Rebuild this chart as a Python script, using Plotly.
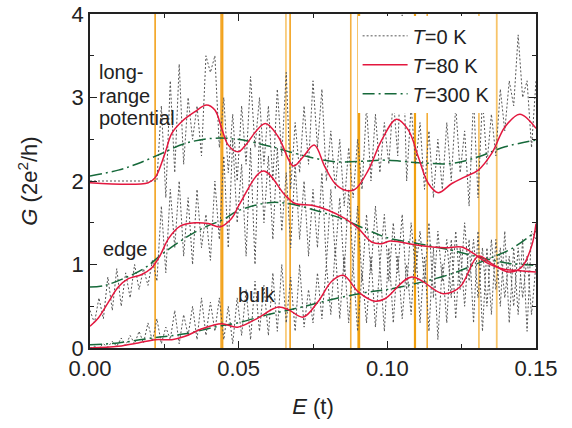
import plotly.graph_objects as go

# ---------------- data ----------------
# T = 0 K (sampled every 0.0015 t)
E0 = [round(i * 0.0015, 4) for i in range(101)]

LR_T0 = [2.0, 2.0, 2.0, 2.0, 2.0, 2.0, 2.0, 2.0, 2.0, 2.0,
         2.0, 2.0, 2.0, 2.0, 2.0, 2.0, 2.9, 1.8, 3.2, 2.1,
         3.4, 2.2, 3.0, 2.5, 2.9, 2.3, 3.5, 3.3, 3.5, 2.4,
         3.0, 2.1, 2.8, 2.0, 2.9, 2.2, 3.25, 2.4, 3.0, 2.2,
         2.9, 2.0, 3.1, 2.3, 3.3, 1.9, 2.7, 2.1, 2.9, 2.2,
         3.2, 2.4, 3.1, 2.0, 2.6, 1.9, 2.5, 1.7, 2.4, 1.8,
         2.5, 1.9, 2.9, 2.0, 2.8, 2.1, 2.7, 2.2, 3.0, 2.3,
         4.0, 2.0, 2.9, 2.2, 2.7, 1.9, 2.6, 1.8, 2.5, 1.9,
         2.7, 2.0, 2.9, 2.1, 2.6, 1.7, 3.0, 1.8, 3.0, 2.2,
         2.8, 2.3, 3.1, 2.6, 3.2, 2.9, 3.75, 3.0, 3.2, 2.4,
         3.2]

EDGE_T0 = [0.45, 0.3, 0.6, 0.35, 0.85, 0.45, 0.95, 0.5, 0.9, 0.6,
           1.0, 0.7, 0.95, 0.75, 1.05, 0.8, 1.7, 0.9, 1.9, 1.2,
           2.0, 1.1, 1.8, 1.0, 1.9, 1.2, 1.6, 1.05, 2.0, 1.3,
           2.3, 1.2, 2.5, 1.5, 2.2, 1.1, 2.4, 1.0, 2.6, 1.5,
           2.3, 1.3, 2.4, 1.4, 2.1, 1.2, 2.2, 1.3, 2.0, 1.1,
           1.9, 1.2, 2.1, 1.0, 1.9, 1.1, 1.8, 0.9, 1.9, 1.0,
           1.7, 0.8, 1.6, 0.9, 1.7, 1.0, 1.6, 0.8, 1.5, 0.9,
           1.6, 0.7, 1.5, 0.9, 1.4, 0.8, 1.5, 0.6, 1.4, 0.8,
           1.3, 0.6, 1.4, 0.7, 1.5, 0.8, 1.3, 0.6, 1.2, 0.5,
           1.3, 0.7, 1.2, 0.6, 1.1, 0.5, 1.2, 0.6, 1.1, 0.4,
           1.0]

BULK_T0 = [0.0, 0.02, 0.0, 0.05, 0.01, 0.08, 0.02, 0.12, 0.03, 0.15,
           0.05, 0.2, 0.06, 0.3, 0.08, 0.35, 0.05, 0.25, 0.1, 0.45,
           0.05, 0.4, 0.15, 0.5, 0.1, 0.6, 0.15, 0.55, 0.2, 0.6,
           0.1, 0.5, 0.05, 0.6, 0.15, 0.7, 0.1, 0.8, 0.2, 0.75,
           0.15, 0.9, 0.2, 1.0, 0.3, 0.85, 0.2, 1.0, 0.25, 0.7,
           0.3, 0.9, 0.35, 1.0, 0.4, 1.2, 0.35, 1.1, 0.3, 1.0,
           0.2, 0.9, 0.3, 1.1, 0.25, 1.0, 0.2, 1.2, 0.3, 1.1,
           0.35, 1.0, 0.4, 1.3, 0.3, 1.1, 0.2, 1.2, 0.1, 1.0,
           0.3, 1.3, 0.35, 1.2, 0.5, 1.3, 0.3, 1.4, 0.2, 1.2,
           0.4, 1.3, 0.5, 1.4, 0.3, 1.2, 0.4, 1.3, 0.2, 1.4,
           1.3]

# T = 80 K
LR80_E = [0.0, 0.0196, 0.0219, 0.0252, 0.0275, 0.0308, 0.0353, 0.0392, 0.042,
          0.0443, 0.0465, 0.0499, 0.0521, 0.0589, 0.0633, 0.0684, 0.0717, 0.0754,
          0.079, 0.0824, 0.0858, 0.0891, 0.0936, 0.0981, 0.1031, 0.1071, 0.1104,
          0.1138, 0.1171, 0.1217, 0.1261, 0.1306, 0.1351, 0.1396, 0.1446, 0.15]
LR80_G = [1.98, 1.98, 2.04, 2.33, 2.57, 2.71, 2.83, 2.91, 2.85,
          2.63, 2.43, 2.35, 2.42, 2.69, 2.53, 2.18, 2.29, 2.43,
          2.17, 1.97, 1.89, 1.90, 2.13, 2.49, 2.74, 2.61, 2.29,
          1.97, 1.86, 1.97, 2.05, 2.13, 2.33, 2.65, 2.80, 2.63]

EDGE80_E = [0.0, 0.0028, 0.0062, 0.0095, 0.0129, 0.0174, 0.0208, 0.0236, 0.0264,
            0.0303, 0.0353, 0.0398, 0.0437, 0.0476, 0.0504, 0.0583, 0.0656, 0.069,
            0.0746, 0.0801, 0.0858, 0.0903, 0.0947, 0.0981, 0.1009, 0.1104, 0.1194,
            0.125, 0.1295, 0.1335, 0.1385, 0.1425, 0.15]
EDGE80_G = [0.26, 0.36, 0.55, 0.73, 0.83, 0.88, 0.96, 1.11, 1.31,
            1.46, 1.50, 1.49, 1.45, 1.55, 1.73, 2.12, 1.83, 1.73,
            1.71, 1.65, 1.55, 1.43, 1.27, 1.25, 1.28, 1.23, 1.20,
            1.21, 1.12, 1.02, 0.95, 0.93, 0.91]

BULK80_E = [0.0, 0.0095, 0.0162, 0.0219, 0.0275, 0.032, 0.0376, 0.0443, 0.0496,
            0.0555, 0.0633, 0.0667, 0.0717, 0.0768, 0.0813, 0.0852, 0.0903, 0.0959,
            0.0992, 0.1082, 0.1188, 0.1244, 0.1306, 0.1351, 0.1407, 0.1452, 0.1486, 0.15]
BULK80_G = [0.0, 0.02, 0.06, 0.10, 0.10, 0.14, 0.23, 0.29, 0.25,
            0.34, 0.49, 0.46, 0.37, 0.56, 0.80, 0.87, 0.67, 0.56,
            0.59, 0.85, 0.65, 0.73, 1.10, 1.01, 0.91, 0.97, 1.23, 1.49]

# T = 300 K
LR300_E = [0.0, 0.0095, 0.0162, 0.0241, 0.032, 0.0409, 0.0494, 0.06, 0.0712,
           0.0824, 0.0936, 0.0992, 0.1104, 0.1217, 0.1306, 0.1396, 0.15]
LR300_G = [2.06, 2.13, 2.21, 2.33, 2.45, 2.51, 2.50, 2.42, 2.31,
           2.23, 2.24, 2.25, 2.22, 2.21, 2.29, 2.41, 2.49]

EDGE300_E = [0.0, 0.005, 0.0118, 0.0185, 0.0241, 0.0308, 0.0376, 0.0454, 0.0496,
             0.06, 0.0667, 0.0757, 0.0846, 0.0936, 0.1, 0.1104, 0.1217, 0.1328,
             0.1418, 0.15]
EDGE300_G = [0.73, 0.75, 0.84, 0.96, 1.12, 1.29, 1.43, 1.55, 1.64,
             1.74, 1.73, 1.65, 1.55, 1.41, 1.32, 1.25, 1.17, 1.07,
             1.01, 0.99]

BULK300_E = [0.0, 0.0095, 0.0208, 0.032, 0.0432, 0.0496, 0.06, 0.0712, 0.0824,
             0.0936, 0.1, 0.1104, 0.1217, 0.1328, 0.1418, 0.149, 0.15]
BULK300_G = [0.04, 0.06, 0.12, 0.17, 0.26, 0.30, 0.40, 0.49, 0.59,
             0.67, 0.70, 0.78, 0.89, 1.05, 1.19, 1.37, 1.40]

# vertical marker energies
MARK_E = [0.0219, 0.0441, 0.0446, 0.0659, 0.0673, 0.0877, 0.0902, 0.0906,
          0.1093, 0.1134, 0.1308, 0.1368]
MARK_COLOR = ['#F2A21C', '#F2A21C', '#F2A21C', '#F7C46A', '#F2A21C', '#F4B040',
              '#F0A010', '#F0A010', '#F0A010', '#F2A21C', '#F7C46A', '#F7C46A']
MARK_WIDTH = [1.6, 1.6, 1.6, 1.6, 1.6, 1.6, 1.6, 1.6, 2.2, 1.4, 1.8, 1.8]

X_TICKS = [0.0, 0.05, 0.10, 0.15]
X_LABELS = ['0.00', '0.05', '0.10', '0.15']
Y_TICKS = [0, 1, 2, 3, 4]

# ---------------- figure ----------------
FONT = 'Liberation Sans, Arial, sans-serif'
RED = '#E3173E'
GREEN = '#16693A'
GREY = '#555555'

fig = go.Figure()

for e, c, w in zip(MARK_E, MARK_COLOR, MARK_WIDTH):
    fig.add_trace(go.Scatter(x=[e, e], y=[0, 4], mode='lines',
                             line=dict(color=c, width=w),
                             showlegend=False, hoverinfo='skip'))

for i, g in enumerate([LR_T0, EDGE_T0, BULK_T0]):
    fig.add_trace(go.Scatter(x=E0, y=g, mode='lines', name='<i>T</i>=0 K',
                             legendgroup='t0', showlegend=(i == 0), legendrank=1,
                             line=dict(color=GREY, width=1, dash='2px,2px')))

for i, (x, y) in enumerate([(LR300_E, LR300_G), (EDGE300_E, EDGE300_G),
                            (BULK300_E, BULK300_G)]):
    fig.add_trace(go.Scatter(x=x, y=y, mode='lines', name='<i>T</i>=300 K',
                             legendgroup='t300', showlegend=(i == 0),
                             line=dict(color=GREEN, width=1.5, shape='spline',
                                       dash='12px,4px,2px,4px'),
                             legendrank=3))

for i, (x, y) in enumerate([(LR80_E, LR80_G), (EDGE80_E, EDGE80_G),
                            (BULK80_E, BULK80_G)]):
    fig.add_trace(go.Scatter(x=x, y=y, mode='lines', name='<i>T</i>=80 K',
                             legendgroup='t80', showlegend=(i == 0),
                             line=dict(color=RED, width=1.5, shape='spline'),
                             legendrank=2))

axis_common = dict(showline=True, linecolor='#222', linewidth=1.5, mirror='ticks',
                   ticks='inside', ticklen=7, tickwidth=1.3, tickcolor='#222',
                   showgrid=False, zeroline=False, automargin=False,
                   tickfont=dict(family=FONT, size=22, color='#222'))

fig.update_xaxes(range=[0, 0.15], tickvals=X_TICKS, ticktext=X_LABELS,
                 minor=dict(ticks='inside', ticklen=4, dtick=0.025, tick0=0,
                            tickcolor='#222', showgrid=False),
                 title=dict(text='<i>E</i> (t)', font=dict(family=FONT, size=22, color='#222'),
                            standoff=18),
                 **axis_common)
fig.update_yaxes(range=[0, 4], tickvals=Y_TICKS,
                 minor=dict(ticks='inside', ticklen=4, dtick=0.5, tick0=0,
                            tickcolor='#222', showgrid=False),
                 title=dict(text='<i>G</i> (2e<sup>2</sup>/h)',
                            font=dict(family=FONT, size=22, color='#222'), standoff=28),
                 **axis_common)

ann_font = dict(family=FONT, size=20, color='#222')
for txt, xp, yv in [('long-', 0.016, 3.31), ('range', 0.016, 3.02),
                    ('potential', 0.016, 2.75), ('edge', 0.024, 1.18),
                    ('bulk', 0.327, 0.64)]:
    fig.add_annotation(text=txt, xref='paper', yref='y', x=xp, y=yv,
                       xanchor='left', yanchor='middle', showarrow=False,
                       font=ann_font)

fig.update_layout(
    width=572, height=428,
    margin=dict(l=90, r=36, t=14, b=80, autoexpand=False),
    paper_bgcolor='white', plot_bgcolor='white',
    font=dict(family=FONT, color='#222'),
    legend=dict(x=0.6, y=0.993, xanchor='left', yanchor='top',
                bgcolor='white', borderwidth=0, itemwidth=45,
                font=dict(family=FONT, size=20, color='#222'),
                tracegroupgap=0),
    showlegend=True,
)

fig.write_html('out.html', config={'displayModeBar': False},
               post_script="document.body.style.margin='0';document.body.style.padding='0';")
